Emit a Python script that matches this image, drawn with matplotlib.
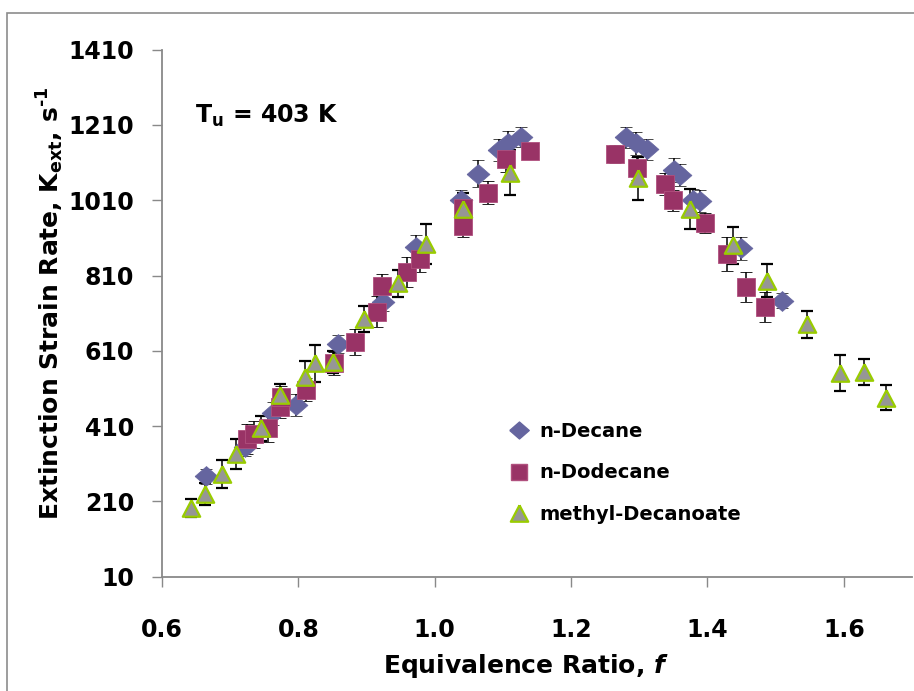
"""
Extinction strain rate vs equivalence ratio, Tu = 403 K
"""

import numpy as np
import matplotlib
matplotlib.use("Agg")
import matplotlib.pyplot as plt
import matplotlib.patches as mpatches
from matplotlib.lines import Line2D

# --- data ---
decane_phi = [0.664, 0.722, 0.763, 0.797, 0.858, 0.924, 0.973, 1.039, 1.063, 1.094, 1.107,
              1.126, 1.281, 1.295, 1.312, 1.351, 1.359, 1.379, 1.389, 1.449, 1.510]
decane_k = [277, 355, 444, 466, 628, 741, 887, 1010, 1081, 1143, 1161,
            1178, 1177, 1161, 1145, 1090, 1077, 1010, 1008, 882, 743]
decane_err = [20, 25, 30, 30, 25, 25, 30, 27, 37, 30, 34,
              27, 28, 30, 28, 31, 30, 30, 28, 31, 20]

dodecane_phi = [0.725, 0.735, 0.756, 0.773, 0.775, 0.811, 0.853, 0.883, 0.916, 0.923, 0.960,
                0.978, 1.042, 1.042, 1.078, 1.104, 1.139, 1.264, 1.297, 1.338, 1.349, 1.396,
                1.428, 1.456, 1.485]
dodecane_k = [376, 388, 404, 462, 487, 507, 577, 634, 714, 783, 820,
              855, 942, 990, 1030, 1119, 1142, 1133, 1095, 1053, 1010, 950,
              867, 779, 727]
dodecane_err = [40, 35, 35, 30, 30, 30, 30, 35, 41, 30, 40,
                36, 30, 30, 30, 35, 0, 25, 30, 30, 28, 26,
                45, 40, 40]

mdec_phi = [0.642, 0.663, 0.688, 0.709, 0.745, 0.773, 0.809, 0.825, 0.851, 0.896, 0.946,
            0.987, 1.041, 1.110, 1.298, 1.374, 1.437, 1.487, 1.546, 1.595, 1.630, 1.662]
mdec_k = [192, 229, 282, 336, 404, 492, 540, 577, 581, 694, 789,
          895, 988, 1083, 1068, 988, 891, 796, 681, 550, 554, 486]
mdec_err = [24, 29, 37, 41, 34, 31, 44, 49, 29, 34, 35,
            53, 42, 60, 58, 53, 49, 44, 36, 48, 35, 33]

x_ticks = [0.6, 0.8, 1.0, 1.2, 1.4, 1.6]
y_ticks = [10, 210, 410, 610, 810, 1010, 1210, 1410]

# --- style ---
plt.rcParams['font.family'] = 'DejaVu Sans'
plt.rcParams['font.weight'] = 'bold'
plt.rcParams['mathtext.fontset'] = 'custom'
plt.rcParams['mathtext.rm'] = 'DejaVu Sans:bold'
plt.rcParams['mathtext.it'] = 'DejaVu Sans:bold:italic'
plt.rcParams['mathtext.bf'] = 'DejaVu Sans:bold'

W, H = 914, 691
diamond = [(-1, 0), (0, 0.87), (1, 0), (0, -0.87), (-1, 0)]
triangle = [(0, 0.95), (-1, -0.95), (1, -0.95), (0, 0.95)]

fig = plt.figure(figsize=(W / 100, H / 100), dpi=100)
ax = fig.add_axes([162 / W, 1 - 576.7 / H, 750 / W, 527 / H])

# chart area border (cropped on the right / bottom)
fig.patches.append(mpatches.Rectangle((7 / W, -0.2), 1.2, 1.2 - 13 / H, transform=fig.transFigure,
                                      fill=False, edgecolor='#8c8c8c', linewidth=1.2))

err_kw = dict(ecolor='black', elinewidth=1.1, capsize=4.3, capthick=1.1, linestyle='none')

ax.errorbar(decane_phi, decane_k, yerr=decane_err, marker=diamond, markersize=16.5,
            markerfacecolor='#65659f', markeredgecolor='#65659f', markeredgewidth=0.5, **err_kw)
ax.errorbar(dodecane_phi, dodecane_k, yerr=dodecane_err, marker='s', markersize=12.6,
            markerfacecolor='#993366', markeredgecolor='#b0507e', markeredgewidth=0.6, **err_kw)
ax.errorbar(mdec_phi, mdec_k, yerr=mdec_err, marker=triangle, markersize=12.5,
            markerfacecolor='#969696', markeredgecolor='#99cc00', markeredgewidth=1.6, **err_kw)

ax.set_xlim(0.6, 1.7)
ax.set_ylim(10, 1410)
ax.set_xticks(x_ticks)
ax.set_xticklabels([f"{v:.1f}" for v in x_ticks])
ax.set_yticks(y_ticks)
ax.set_yticklabels([str(v) for v in y_ticks])

for side in ('top', 'right'):
    ax.spines[side].set_visible(False)
for side in ('left', 'bottom'):
    ax.spines[side].set_color('#898989')
    ax.spines[side].set_linewidth(1.3)

ax.tick_params(axis='both', direction='out', length=7, width=1, color='#898989',
               labelsize=17, labelcolor='black')
ax.tick_params(axis='y', pad=13)
ax.tick_params(axis='x', pad=23)

# axis titles
fig.text(526 / W, 1 - 673 / H, r"Equivalence Ratio, $\mathit{f}$", ha='center', va='baseline',
         fontsize=18, fontweight='bold')
fig.text(50 / W, 1 - 303 / H, r"Extinction Strain Rate, K$_{\rm ext}$, s$^{\text{-1}}$",
         rotation=90, ha='center', va='center', fontsize=18, fontweight='bold')

# temperature note
fig.text(195 / W, 1 - 123 / H, r"T$_{\rm u}$ = 403 K", ha='left', va='baseline',
         fontsize=17, fontweight='bold')

legend_elements = [
    Line2D([], [], linestyle='none', marker=diamond, markersize=14,
           markerfacecolor='#65659f', markeredgecolor='#65659f', label='n-Decane'),
    Line2D([], [], linestyle='none', marker='s', markersize=12,
           markerfacecolor='#993366', markeredgecolor='#b0507e', label='n-Dodecane'),
    Line2D([], [], linestyle='none', marker=triangle, markersize=12.5, markeredgewidth=1.6,
           markerfacecolor='#969696', markeredgecolor='#99cc00', label='methyl-Decanoate'),
]
fig.legend(handles=legend_elements, loc='upper left', bbox_to_anchor=(509 / W, 1 - 422 / H),
           bbox_transform=fig.transFigure, frameon=False, fontsize=14, handlelength=1.05,
           handletextpad=0.5, labelspacing=1.15, borderpad=0, borderaxespad=0)

fig.savefig("out.png", dpi=100)
plt.close(fig)
